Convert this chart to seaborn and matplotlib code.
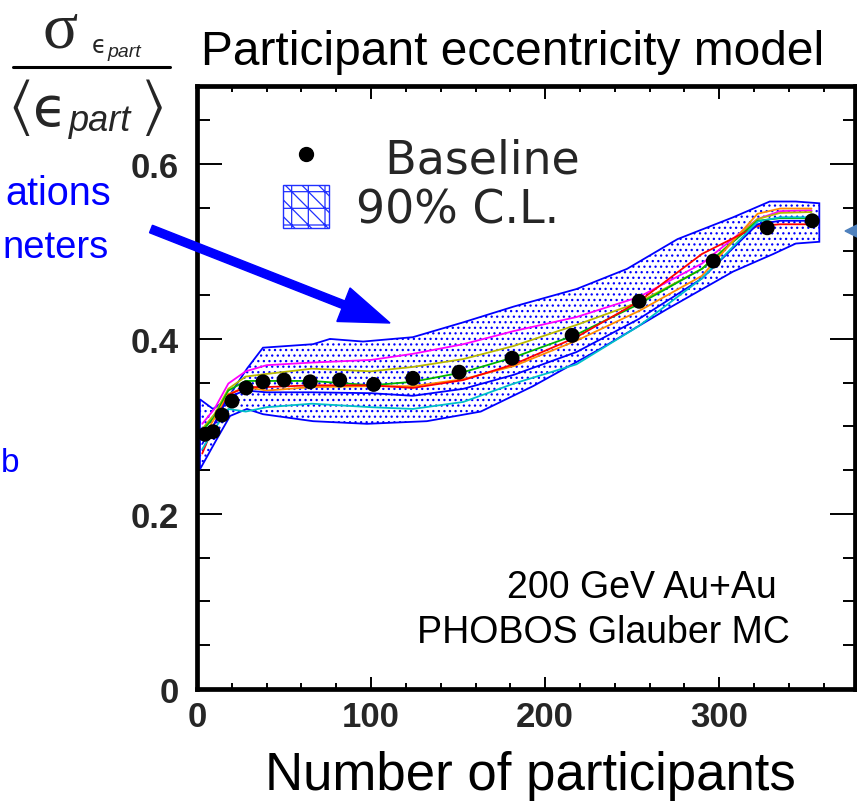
import matplotlib
matplotlib.use("Agg")
import matplotlib.pyplot as plt
import pandas as pd
import seaborn as sns
from matplotlib.patches import Patch, FancyArrow, Polygon
from matplotlib.lines import Line2D
from matplotlib.ticker import MultipleLocator

# ---- data -------------------------------------------------------------
# Baseline Glauber MC result
npart_baseline = [4.6, 9.2, 14.4, 20.1, 28.2, 37.9, 50.0, 65.0, 82.0, 101.5,
                  124.0, 150.6, 181.0, 215.5, 254.0, 296.6, 327.6, 353.4]
ratio_baseline = [0.291, 0.294, 0.313, 0.329, 0.344, 0.351, 0.353, 0.351, 0.353,
                  0.348, 0.355, 0.362, 0.378, 0.404, 0.443, 0.489, 0.527, 0.535]

# 90% C.L. band edges
band_upper_x = [1.7, 9.2, 17.2, 28.7, 37.9, 66.7, 76.4, 95.4, 124, 153, 182,
                218, 247, 276, 308, 329, 344, 357.5]
band_upper_y = [0.331, 0.320, 0.331, 0.366, 0.390, 0.394, 0.400, 0.397, 0.402,
                0.419, 0.437, 0.457, 0.480, 0.514, 0.539, 0.557, 0.557, 0.555]
band_lower_x = [1.7, 11.5, 19, 28.7, 37.9, 66.7, 97.7, 132, 163, 193, 232,
                270, 308, 331, 344, 357.5]
band_lower_y = [0.251, 0.286, 0.312, 0.320, 0.314, 0.306, 0.303, 0.306, 0.317,
                0.346, 0.389, 0.434, 0.477, 0.497, 0.509, 0.511]

# Individual parameter variations
npart_var = [3, 10, 18, 28, 40, 66, 100, 124, 153, 182, 218, 254, 290, 322, 335, 353]
var_magenta = [0.303, 0.320, 0.349, 0.363, 0.370, 0.373, 0.376, 0.383, 0.394,
               0.409, 0.425, 0.448, 0.486, 0.537, 0.546, 0.547]
var_olive = [0.297, 0.314, 0.343, 0.357, 0.360, 0.366, 0.363, 0.368, 0.377,
             0.392, 0.416, 0.442, 0.480, 0.537, 0.544, 0.545]
var_green = [0.295, 0.311, 0.341, 0.352, 0.352, 0.352, 0.347, 0.351, 0.362,
             0.379, 0.405, 0.440, 0.480, 0.535, 0.538, 0.538]
var_orange = [0.286, 0.309, 0.337, 0.345, 0.341, 0.345, 0.346, 0.346, 0.354,
              0.369, 0.398, 0.432, 0.472, 0.543, 0.549, 0.549]
var_red = [0.269, 0.303, 0.336, 0.345, 0.345, 0.347, 0.347, 0.344, 0.353,
           0.371, 0.402, 0.443, 0.497, 0.529, 0.531, 0.531]
var_blue = [0.280, 0.303, 0.334, 0.341, 0.339, 0.339, 0.338, 0.335, 0.343,
            0.359, 0.385, 0.423, 0.469, 0.531, 0.535, 0.535]
var_cyan = [0.274, 0.297, 0.320, 0.317, 0.322, 0.326, 0.322, 0.320, 0.328,
            0.349, 0.371, 0.415, 0.469, 0.534, 0.539, 0.539]

variation_names = ["magenta", "olive", "green", "orange", "red", "blue", "cyan"]
variation_values = [var_magenta, var_olive, var_green, var_orange, var_red,
                    var_blue, var_cyan]
variation_colors = ["#ff00ff", "#b8b800", "#00b400", "#ff8c00", "#ff0000",
                    "#0000ff", "#00c0c8"]

x_ticks = [0, 100, 200, 300]
y_ticks = [0, 0.2, 0.4, 0.6]
y_tick_labels = ["0", "0.2", "0.4", "0.6"]

# ---- style ------------------------------------------------------------
sns.set_theme(style="ticks")
plt.rcParams["font.family"] = ["Liberation Sans", "DejaVu Sans"]
plt.rcParams["hatch.linewidth"] = 0.9

W, H = 857, 804
fig = plt.figure(figsize=(W / 100, H / 100), dpi=100)
fig.patch.set_facecolor("white")

def fx(px):
    return px / W

def fy(py):
    return 1 - py / H

ax = fig.add_axes([fx(197), fy(690), fx(855) - fx(197), fy(87) - fy(690)])
ax.set_facecolor("white")

# 90% C.L. band
band_x = band_upper_x + band_lower_x[::-1]
band_y = band_upper_y + band_lower_y[::-1]
ax.fill(band_x, band_y, facecolor="white", edgecolor="#0000ff",
        hatch="...", linewidth=1.3, zorder=1)

# Parameter variation curves
rows = []
for name, vals in zip(variation_names, variation_values):
    for xv, yv in zip(npart_var, vals):
        rows.append({"npart": xv, "ratio": yv, "variation": name})
df_var = pd.DataFrame(rows)
sns.lineplot(data=df_var, x="npart", y="ratio", hue="variation",
             hue_order=variation_names, palette=variation_colors,
             estimator=None, sort=False, linewidth=1.3, legend=False,
             ax=ax, zorder=2)

# Baseline points
df_base = pd.DataFrame({"npart": npart_baseline, "ratio": ratio_baseline})
sns.scatterplot(data=df_base, x="npart", y="ratio", color="black", s=115,
                edgecolor="none", ax=ax, zorder=3)

# ---- axes -------------------------------------------------------------
ax.set_xlim(0, 378)
ax.set_ylim(0, 0.689)
ax.set_xlabel("")
ax.set_ylabel("")
ax.set_xticks(x_ticks)
ax.set_xticklabels([str(v) for v in x_ticks])
ax.set_yticks(y_ticks)
ax.set_yticklabels(y_tick_labels)
ax.xaxis.set_minor_locator(MultipleLocator(20))
ax.yaxis.set_minor_locator(MultipleLocator(0.05))
for sp in ax.spines.values():
    sp.set_visible(True)
    sp.set_linewidth(3.4)
    sp.set_color("black")
ax.tick_params(axis="both", which="both", direction="in", top=True, right=True,
               color="black", width=1.4)
ax.tick_params(axis="x", which="major", length=9, pad=8)
ax.tick_params(axis="x", which="minor", length=4.5)
ax.tick_params(axis="y", which="major", length=18, pad=13)
ax.tick_params(axis="y", which="minor", length=9)
for lab in ax.get_xticklabels() + ax.get_yticklabels():
    lab.set_fontsize(25)
    lab.set_fontweight("bold")

# Legend
handles = [
    Line2D([], [], linestyle="none", marker="o", markersize=10,
           markerfacecolor="black", markeredgecolor="black"),
    Patch(facecolor="white", edgecolor="#2030ff", hatch="+\\\\", linewidth=1.0),
]
leg = ax.legend(handles, ["  Baseline", "90% C.L."], loc="upper left",
                bbox_to_anchor=(fx(283), fy(137)), bbox_transform=fig.transFigure,
                frameon=False, prop={"family": "DejaVu Sans", "size": 33},
                handlelength=1.0, handleheight=1.05, handletextpad=0.6,
                labelspacing=0.05, borderpad=0, borderaxespad=0)

# Figure texts
fig.text(fx(777), fy(598), "200 GeV Au+Au", ha="right", va="baseline",
         fontsize=27, color="black")
fig.text(fx(790), fy(643), "PHOBOS Glauber MC", ha="right", va="baseline",
         fontsize=27, color="black")
fig.text(fx(513), fy(65), "Participant eccentricity model", ha="center",
         va="baseline", fontsize=34.5, color="black")
fig.text(fx(530), fy(790), "Number of participants", ha="center",
         va="baseline", fontsize=38, color="black")

# Vertical axis title drawn as a fraction
fig.text(fx(60), fy(47), "σ", ha="center", va="baseline",
         fontsize=47, family="Liberation Serif")
fig.text(fx(99), fy(53), "ϵ", ha="center", va="baseline",
         fontsize=17, family="DejaVu Sans")
fig.text(fx(107), fy(57), "part", ha="left", va="baseline",
         fontsize=14, style="italic")
fig.add_artist(Line2D([fx(13), fx(170)], [fy(68), fy(68)], color="black",
                      linewidth=2.2, transform=fig.transFigure))
fig.text(fx(19), fy(108), r"$\langle$", ha="center", va="center",
         fontsize=44, math_fontfamily="stix")
fig.text(fx(50), fy(126), "ϵ", ha="center", va="baseline",
         fontsize=40, family="DejaVu Sans")
fig.text(fx(69), fy(131), "part", ha="left", va="baseline",
         fontsize=26, style="italic")
fig.text(fx(152), fy(108), r"$\rangle$", ha="center", va="center",
         fontsize=44, math_fontfamily="stix")

# Slide text running off the left edge
fig.text(fx(111), fy(205), "ations", ha="right", va="baseline",
         fontsize=28.5, color="#0000ff")
fig.text(fx(109), fy(258), "neters", ha="right", va="baseline",
         fontsize=27.5, color="#0000ff")
fig.text(fx(19), fy(472), "b", ha="right", va="baseline",
         fontsize=24, color="#0000ff")

# Pointer arrow toward the band
arrow = FancyArrow(1.51, (H - 230) / 100, 2.39, -0.94, width=0.08,
                   head_width=0.36, head_length=0.5,
                   length_includes_head=True, color="#0000ff",
                   transform=fig.dpi_scale_trans)
fig.add_artist(arrow)
tri = Polygon([[8.45, (H - 232) / 100], [8.57, (H - 226) / 100],
               [8.57, (H - 238) / 100]], closed=True, color="#4f81bd",
              transform=fig.dpi_scale_trans)
fig.add_artist(tri)

fig.savefig("out.png", dpi=100, facecolor="white")
